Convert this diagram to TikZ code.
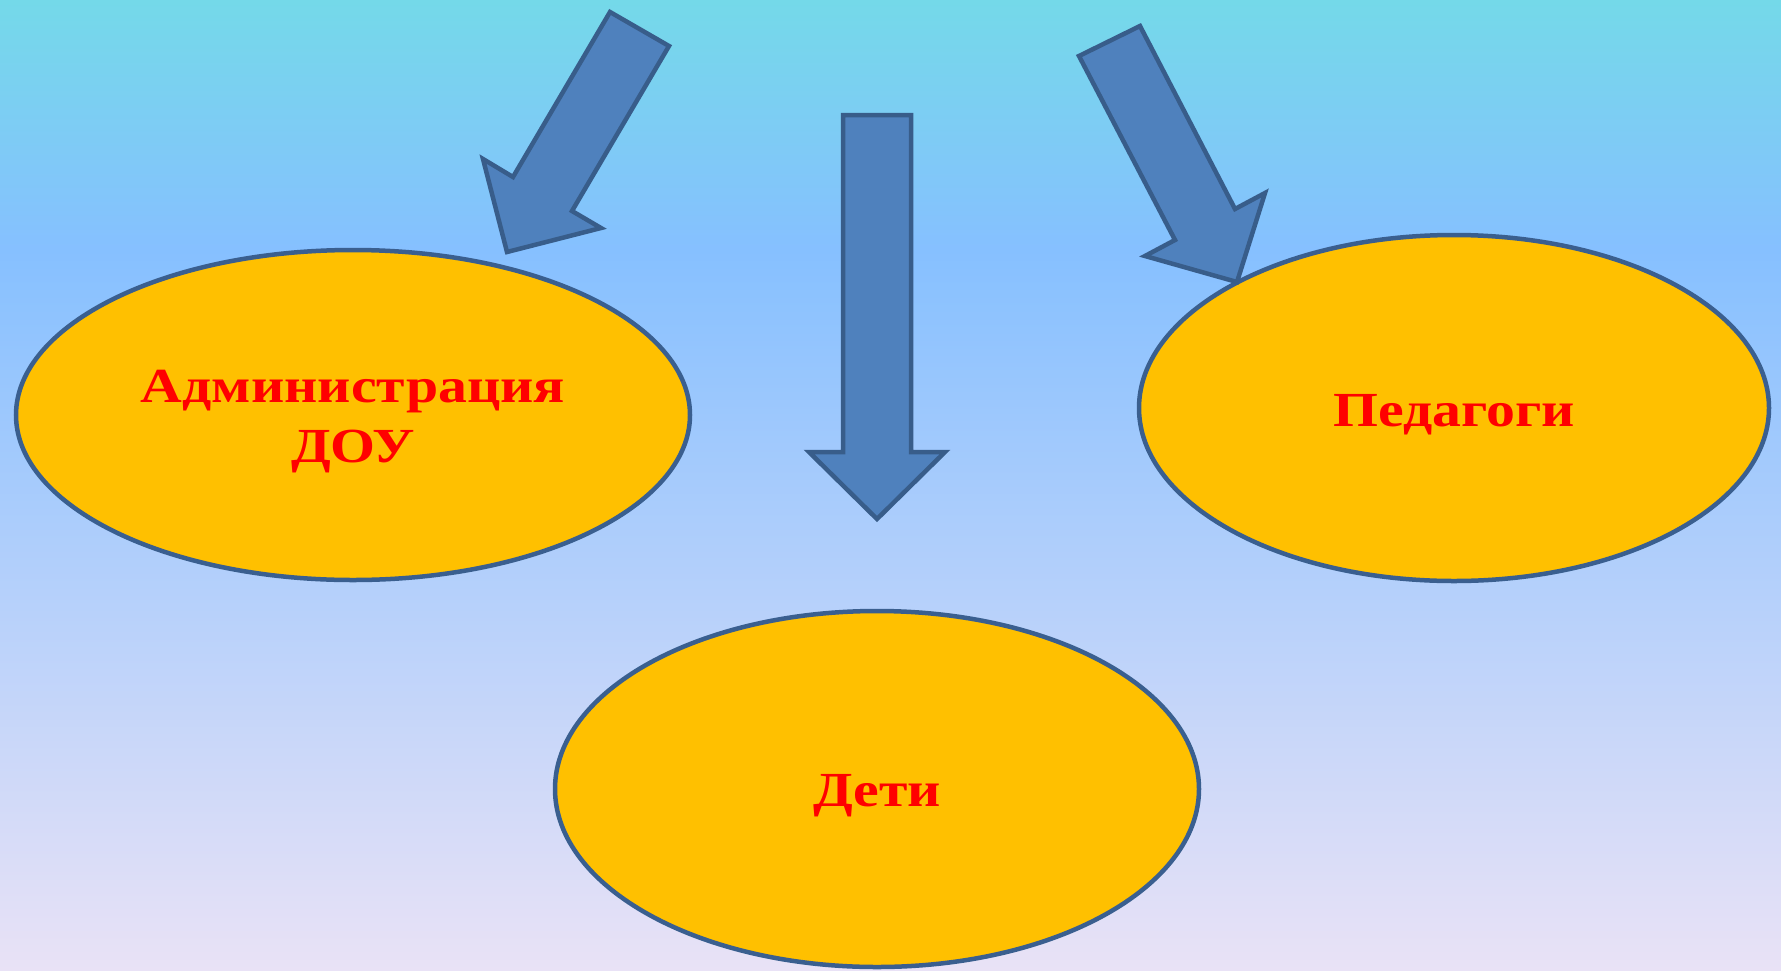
\documentclass[tikz,border=0pt]{standalone}
\usepackage{fontspec}
\setmainfont{Liberation Serif}
\newfontfamily\labelfont[FakeStretch=1.18]{Liberation Serif}
\usetikzlibrary{shapes.geometric}
\definecolor{bgtop}{RGB}{116,217,233}
\definecolor{bgmid}{RGB}{134,192,255}
\definecolor{bgbot}{RGB}{233,226,246}
\definecolor{ovalfill}{RGB}{255,192,0}
\definecolor{ovaledge}{RGB}{58,95,143}
\definecolor{arrowfill}{RGB}{79,129,189}
\definecolor{arrowedge}{RGB}{56,93,138}
\tikzset{
  oval/.style={ellipse, draw=ovaledge, fill=ovalfill, line width=4.5pt, inner sep=0pt},
  ovaltext/.style={text=red, font=\labelfont\bfseries\fontsize{49}{60}\selectfont, align=center, inner sep=0pt},
  blockarrow/.style={draw=arrowedge, fill=arrowfill, line width=4.5pt, line join=miter}
}
\begin{document}
\begin{tikzpicture}[x=1pt,y=-1pt]
\useasboundingbox (0,0) rectangle (1781,970);
\shade[top color=bgtop, bottom color=bgmid] (0,0) rectangle (1781,250);
\shade[top color=bgmid, bottom color=bgbot] (0,250) rectangle (1781,970);

\node[oval, minimum width=674pt, minimum height=330pt] (admin) at (353,415) {};
\node[oval, minimum width=630pt, minimum height=346pt] (ped) at (1454,408) {};
\node[oval, minimum width=644pt, minimum height=356pt] (kids) at (877,789) {};
\node[ovaltext] (admintext) at (353,422) {Администрация\\ДОУ};
\node[ovaltext] (pedtext) at (1454,415) {Педагоги};
\node[ovaltext] (kidstext) at (877,796) {Дети};

% left arrow
\draw[blockarrow] (610,12) -- (669,46) -- (572,211) -- (601,228) -- (507,252) -- (483,159) -- (513,177) -- cycle;
% middle arrow
\draw[blockarrow] (843,115) -- (911,115) -- (911,452) -- (945,452) -- (877,519) -- (809,452) -- (843,452) -- cycle;
% right arrow
\draw[blockarrow] (1079,56) -- (1140,26) -- (1235,209) -- (1265,193) -- (1237,282) -- (1145,256) -- (1175,240) -- cycle;
\end{tikzpicture}
\end{document}
